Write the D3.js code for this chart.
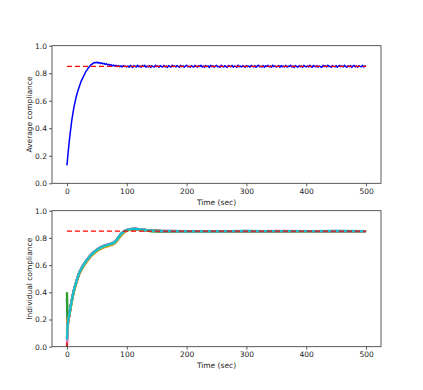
<!DOCTYPE html>
<html><head><meta charset="utf-8">
<script src="https://cdn.jsdelivr.net/npm/d3@7"></script>
<style>
html,body{margin:0;padding:0;background:#fff;}
text{font-family:"DejaVu Sans",sans-serif;fill:#222;}
</style></head>
<body><svg id="c" width="423" height="390"></svg>
<script>
// ---------- DATA ----------
const xTicks = [0, 100, 200, 300, 400, 500];
const yTicks = [0.0, 0.2, 0.4, 0.6, 0.8, 1.0];
const targetLevel = 0.85;
const targetRange = [0, 500];

// Average compliance, sampled every 2 s from 0 to 500
const avgTimes = d3.range(0, 501, 2);
const avgValues = [
  0.13,0.225,0.31,0.385,0.455,0.51,0.56,0.60,0.638,0.668,
  0.695,0.72,0.745,0.762,0.78,0.798,0.815,0.826,0.840,0.850,
  0.860,0.866,0.873,0.878,0.876,0.880,0.874,0.878,0.871,0.875,
  0.868,0.872,0.864,0.869,0.860,0.865,0.857,0.862,0.854,0.859,
  0.852,0.857,0.849,0.855,0.847,0.853,0.846,0.855,0.848,0.852,
  0.845,
  0.853,0.844,0.857,0.848,0.842,0.856,0.850,0.845,0.858,0.847,
  0.852,0.843,0.855,0.849,0.857,0.844,0.851,0.846,0.856,0.842,
  0.854,0.848,0.845,0.858,0.847,0.853,0.843,0.856,0.849,0.845,
  0.857,0.846,0.852,0.842,0.855,0.850,0.844,0.858,0.848,0.853,
  0.845,0.856,0.849,0.843,0.857,0.847,0.854,0.844,0.852,0.858,
  0.846,0.851,0.843,0.856,0.848,0.845,0.857,0.850,0.844,0.855,
  0.849,0.858,0.845,0.852,0.843,0.856,0.847,0.853,0.842,0.857,
  0.848,0.854,0.844,0.851,0.857,0.846,0.850,0.843,0.858,0.849,
  0.845,0.855,0.848,0.842,0.856,0.851,0.846,0.857,0.844,0.853,
  0.850,0.843,0.858,0.847,0.852,0.845,0.855,0.849,0.843,0.856,
  0.848,0.853,0.844,0.857,0.850,0.846,0.855,0.842,0.852,0.858,
  0.847,0.851,0.845,0.856,0.843,0.854,0.849,0.857,0.846,0.852,
  0.844,0.858,0.848,0.853,0.845,0.850,0.856,0.843,0.855,0.847,
  0.852,0.846,0.857,0.844,0.851,0.848,0.858,0.845,0.853,0.842,
  0.856,0.849,0.844,0.855,0.847,0.852,0.843,0.857,0.850,0.846,
  0.854,0.845,0.858,0.848,0.843,0.856,0.851,0.846,0.855,0.844,
  0.853,0.847,0.842,0.857,0.849,0.854,0.845,0.858,0.848,0.851,
  0.843,0.856,0.850,0.846,0.855,0.844,0.852,0.857,0.847,0.853,
  0.845,0.858,0.849,0.843,0.854,0.848,0.856,0.842,0.851,0.857,
  0.846,0.853,0.844,0.855,0.850,0.847,0.857,0.845,0.852,0.849
];

// Individual compliance
const indTimes = [0,1,2,4,6,9,12,15,20,25,30,35,40,45,50,55,60,65,70,76,80,85,90,95,100,105,110,115,120,130,140,160,200,250,300,350,400,450,500];
const indBlue   = [0.35,0.20,0.195,0.24,0.294,0.364,0.424,0.47,0.539,0.584,0.619,0.649,0.676,0.697,0.714,0.729,0.739,0.747,0.754,0.762,0.772,0.799,0.828,0.847,0.858,0.864,0.866,0.866,0.864,0.858,0.853,0.851,0.85,0.85,0.851,0.85,0.85,0.851,0.85];
const indOrange = [0.22,0.16,0.182,0.226,0.281,0.351,0.411,0.457,0.526,0.571,0.606,0.636,0.663,0.684,0.701,0.716,0.726,0.735,0.742,0.75,0.759,0.785,0.815,0.837,0.851,0.859,0.863,0.864,0.863,0.858,0.853,0.85,0.849,0.849,0.85,0.849,0.85,0.849,0.849];
const indGreen  = [0.40,0.21,0.192,0.237,0.292,0.362,0.422,0.468,0.537,0.582,0.617,0.647,0.674,0.695,0.712,0.727,0.737,0.745,0.752,0.76,0.77,0.797,0.826,0.845,0.856,0.861,0.863,0.862,0.86,0.854,0.849,0.846,0.845,0.846,0.848,0.849,0.85,0.85,0.85];
const indRed    = [0.0,0.12,0.18,0.233,0.288,0.358,0.418,0.464,0.533,0.578,0.613,0.643,0.67,0.691,0.708,0.723,0.733,0.741,0.748,0.756,0.766,0.793,0.823,0.844,0.856,0.862,0.865,0.866,0.864,0.858,0.853,0.85,0.849,0.849,0.85,0.85,0.85,0.85,0.85];
const indPurple = [0.06,0.14,0.185,0.235,0.29,0.36,0.42,0.466,0.535,0.58,0.615,0.645,0.672,0.693,0.71,0.725,0.735,0.743,0.75,0.758,0.768,0.795,0.825,0.845,0.857,0.863,0.866,0.866,0.864,0.858,0.853,0.85,0.849,0.849,0.85,0.85,0.85,0.85,0.85];
const indBrown  = [0.12,0.16,0.186,0.231,0.286,0.356,0.416,0.462,0.531,0.576,0.611,0.641,0.668,0.689,0.706,0.721,0.731,0.739,0.746,0.754,0.764,0.79,0.82,0.841,0.854,0.861,0.864,0.865,0.864,0.858,0.853,0.85,0.849,0.849,0.849,0.85,0.85,0.85,0.85];
const indPink   = [0.03,0.13,0.188,0.238,0.293,0.363,0.423,0.469,0.538,0.583,0.618,0.648,0.675,0.696,0.713,0.728,0.738,0.746,0.753,0.761,0.771,0.798,0.827,0.846,0.858,0.864,0.867,0.866,0.864,0.858,0.853,0.851,0.85,0.85,0.85,0.851,0.85,0.85,0.85];
const indGray   = [0.18,0.17,0.189,0.234,0.289,0.359,0.419,0.465,0.534,0.579,0.614,0.644,0.671,0.692,0.709,0.724,0.734,0.742,0.749,0.757,0.767,0.794,0.824,0.845,0.857,0.863,0.866,0.866,0.864,0.858,0.853,0.85,0.849,0.849,0.85,0.85,0.85,0.85,0.85];
const indOlive  = [0.09,0.15,0.185,0.23,0.285,0.355,0.415,0.461,0.53,0.575,0.61,0.64,0.667,0.688,0.705,0.72,0.73,0.738,0.745,0.753,0.763,0.789,0.82,0.841,0.854,0.861,0.864,0.865,0.863,0.858,0.853,0.85,0.849,0.849,0.85,0.85,0.849,0.85,0.85];
const indCyan   = [0.05,0.15,0.19,0.236,0.291,0.361,0.421,0.467,0.536,0.581,0.616,0.646,0.673,0.694,0.711,0.726,0.736,0.744,0.751,0.759,0.769,0.796,0.826,0.846,0.857,0.863,0.866,0.866,0.864,0.858,0.853,0.85,0.849,0.849,0.85,0.85,0.85,0.85,0.85];
const indSeries = [indBlue, indOrange, indGreen, indRed, indPurple, indBrown, indPink, indGray, indOlive, indCyan];
const indColors = ["#1f77b4","#ff7f0e","#2ca02c","#d62728","#9467bd","#8c564b","#e377c2","#7f7f7f","#bcbd22","#17becf"];

// ---------- DRAW ----------
const svg = d3.select("#c");
const L = 52, R = 381;
const panels = [
  {top: 45.7, bottom: 183.3, ylabel: "Average compliance"},
  {top: 210.7, bottom: 346.7, ylabel: "Individual compliance"}
];
const x = d3.scaleLinear().domain([-25, 525]).range([L, R]);

function axesFor(p) {
  const y = d3.scaleLinear().domain([0, 1]).range([p.bottom, p.top]);
  const g = svg.append("g");
  const xa = g.append("g").attr("transform", `translate(0,${p.bottom})`)
    .call(d3.axisBottom(x).tickValues(xTicks).tickFormat(d3.format("d")).tickSize(3).tickPadding(2));
  const ya = g.append("g").attr("transform", `translate(${L},0)`)
    .call(d3.axisLeft(y).tickValues(yTicks).tickFormat(d3.format(".1f")).tickSize(3).tickPadding(2));
  [xa, ya].forEach(a => {
    a.select(".domain").remove();
    a.selectAll("line").attr("stroke", "#333").attr("stroke-width", 0.8);
    a.selectAll("text").style("font-size", "7.5px").style("fill", "#222").style("font-family", "DejaVu Sans");
  });
  g.append("text").attr("x", (L + R) / 2).attr("y", p.bottom + 21.5)
    .attr("text-anchor", "middle").style("font-size", "7.5px").text("Time (sec)");
  g.append("text").attr("transform", `translate(29.5,${(p.top + p.bottom) / 2}) rotate(-90)`)
    .attr("text-anchor", "middle").attr("dy", "0.35em").style("font-size", "7.5px").text(p.ylabel);
  return y;
}
function frame(p) {
  svg.append("rect").attr("x", L).attr("y", p.top).attr("width", R - L).attr("height", p.bottom - p.top)
    .attr("fill", "none").attr("stroke", "#333").attr("stroke-width", 0.8);
}
function target(y) {
  svg.append("line").attr("x1", x(targetRange[0])).attr("x2", x(targetRange[1]))
    .attr("y1", y(targetLevel)).attr("y2", y(targetLevel))
    .attr("stroke", "#ff0000").attr("stroke-width", 1.3).attr("stroke-dasharray", "5,3");
}

// Top panel
const y1 = axesFor(panels[0]);
const avgData = avgTimes.map((t, i) => [t, avgValues[i]]);
svg.append("path").datum(avgData)
  .attr("d", d3.line().x(d => x(d[0])).y(d => y1(d[1])))
  .attr("fill", "none").attr("stroke", "#0000ff").attr("stroke-width", 1.5).attr("stroke-linejoin", "round");
target(y1);
frame(panels[0]);

// Bottom panel
const y2 = axesFor(panels[1]);
const lineInd = d3.line().x(d => x(d[0])).y(d => y2(d[1])).curve(d3.curveMonotoneX);
indSeries.forEach((s, k) => {
  svg.append("path").datum(indTimes.map((t, i) => [t, s[i]]))
    .attr("d", lineInd).attr("fill", "none").attr("stroke", indColors[k])
    .attr("stroke-width", 2.3).attr("stroke-linejoin", "round");
});
target(y2);
frame(panels[1]);
</script></body></html>
